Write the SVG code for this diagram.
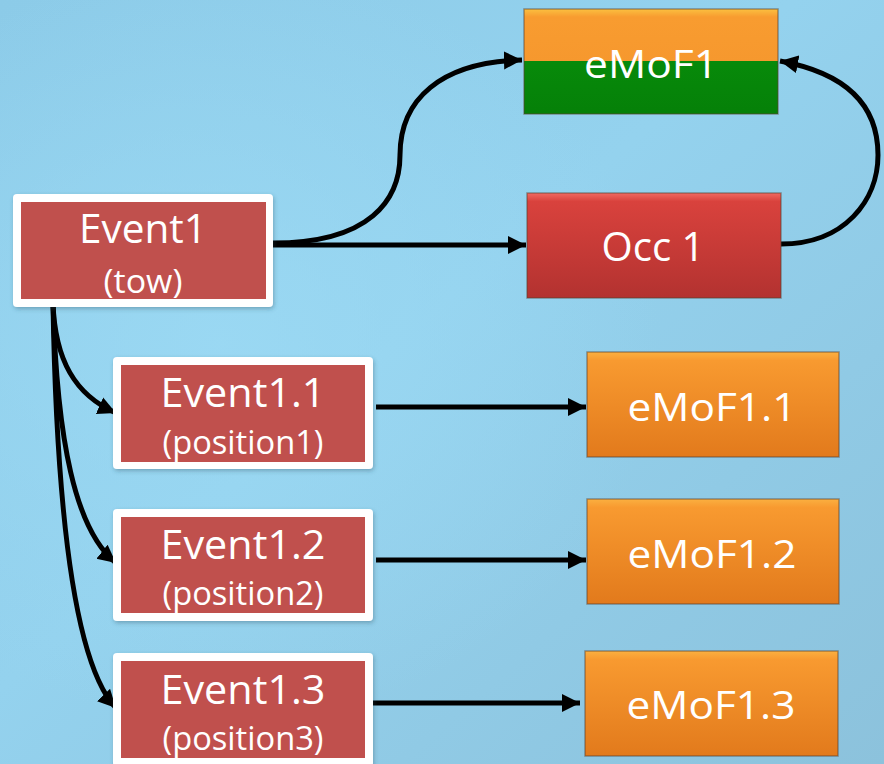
<svg xmlns="http://www.w3.org/2000/svg" width="884" height="764" viewBox="0 0 884 764">
<defs>
<linearGradient id="bg" x1="0" y1="0" x2="1" y2="1">
<stop offset="0" stop-color="#8ccbe8"/>
<stop offset="0.45" stop-color="#94d2ee"/>
<stop offset="1" stop-color="#8cc2dc"/>
</linearGradient>
<radialGradient id="glow" cx="0.25" cy="0.45" r="0.5">
<stop offset="0" stop-color="#9cdaf4" stop-opacity="0.8"/>
<stop offset="1" stop-color="#9cdaf4" stop-opacity="0"/>
</radialGradient>
<linearGradient id="orange" x1="0" y1="0" x2="0" y2="1">
<stop offset="0" stop-color="#fbb040"/>
<stop offset="0.08" stop-color="#f89a30"/>
<stop offset="1" stop-color="#e27a1c"/>
</linearGradient>
<linearGradient id="orangeTop" x1="0" y1="0" x2="0" y2="1">
<stop offset="0" stop-color="#fbc040"/>
<stop offset="0.15" stop-color="#f89c30"/>
<stop offset="1" stop-color="#f6982e"/>
</linearGradient>
<linearGradient id="green" x1="0" y1="0" x2="0" y2="1">
<stop offset="0" stop-color="#078a0a"/>
<stop offset="1" stop-color="#058008"/>
</linearGradient>
<linearGradient id="occ" x1="0" y1="0" x2="0" y2="1">
<stop offset="0" stop-color="#f06a62"/>
<stop offset="0.08" stop-color="#d9423d"/>
<stop offset="1" stop-color="#b33230"/>
</linearGradient>
<filter id="sh" x="-10%" y="-10%" width="130%" height="130%">
<feDropShadow dx="1" dy="2" stdDeviation="2" flood-color="#2a4a5a" flood-opacity="0.35"/>
</filter>
<marker id="ah" markerUnits="userSpaceOnUse" markerWidth="20" markerHeight="20" refX="18" refY="9.5" orient="auto">
<path d="M0,0.5 L18,9.5 L0,18.5 Z" fill="#000"/>
</marker>
</defs>
<style>
.lbl{font-family:"Open Sans","Liberation Sans",sans-serif;fill:#fff;text-anchor:middle}
.big{font-size:41px}
.sub{font-size:32px}
.ev-o{fill:#fff;filter:url(#sh)}
.ev-i{fill:#c0504d}
.edge{fill:none;stroke:#000;stroke-width:5;marker-end:url(#ah)}
.bev{fill:none;stroke:#5a4030;stroke-opacity:0.5;stroke-width:1.5}
</style>
<rect x="0" y="0" width="884" height="764" fill="url(#bg)"/>
<rect x="0" y="0" width="884" height="764" fill="url(#glow)"/>

<g id="connectors">
<path class="edge" d="M273,243 C370,243 400,200 400,155 C400,100 440,62 522,60"/>
<path class="edge" d="M273,245 L526,245"/>
<path class="edge" d="M781,244 C845,244 878,200 878,155 C878,100 840,72 780,61"/>
<path class="edge" d="M53,303 C55,360 75,395 116,413"/>
<path class="edge" d="M53,303 C57,440 75,530 116,563"/>
<path class="edge" d="M53,303 C56,480 70,660 116,708"/>
<path class="edge" d="M376,407 L586,407"/>
<path class="edge" d="M376,560 L586,560"/>
<path class="edge" d="M369,703 L580,703"/>
</g>

<g id="event1">
<rect class="ev-o" x="13" y="194" width="260" height="113" rx="4"/>
<rect class="ev-i" x="21" y="202" width="245" height="97"/>
<text class="lbl big" x="143" y="243" textLength="128" lengthAdjust="spacingAndGlyphs">Event1</text>
<text class="lbl sub" x="143" y="293" textLength="79" lengthAdjust="spacingAndGlyphs">(tow)</text>
</g>

<g id="emof1">
<rect x="524" y="9" width="254" height="53" fill="url(#orangeTop)"/>
<rect x="524" y="61" width="254" height="53" fill="url(#green)"/>
<rect class="bev" x="524" y="9" width="254" height="105"/>
<text class="lbl" x="651" y="78" style="font-size:38px" textLength="134" lengthAdjust="spacingAndGlyphs">eMoF1</text>
</g>

<g id="occ1">
<rect x="527" y="193" width="254" height="105" fill="url(#occ)"/>
<rect class="bev" x="527" y="193" width="254" height="105"/>
<text class="lbl" x="653" y="261" style="font-size:40px" textLength="103" lengthAdjust="spacingAndGlyphs">Occ 1</text>
</g>

<g id="event1-1">
<rect class="ev-o" x="113" y="357" width="260" height="112" rx="4"/>
<rect class="ev-i" x="121" y="365" width="244" height="97"/>
<text class="lbl big" x="243" y="407" textLength="165" lengthAdjust="spacingAndGlyphs">Event1.1</text>
<text class="lbl sub" x="243" y="454" textLength="161" lengthAdjust="spacingAndGlyphs">(position1)</text>
</g>

<g id="event1-2">
<rect class="ev-o" x="113" y="509" width="260" height="112" rx="4"/>
<rect class="ev-i" x="121" y="517" width="244" height="96"/>
<text class="lbl big" x="243" y="559" textLength="165" lengthAdjust="spacingAndGlyphs">Event1.2</text>
<text class="lbl sub" x="243" y="605" textLength="161" lengthAdjust="spacingAndGlyphs">(position2)</text>
</g>

<g id="event1-3">
<rect class="ev-o" x="113" y="653" width="260" height="114" rx="4"/>
<rect class="ev-i" x="121" y="661" width="244" height="97"/>
<text class="lbl big" x="243" y="704" textLength="165" lengthAdjust="spacingAndGlyphs">Event1.3</text>
<text class="lbl sub" x="243" y="750" textLength="161" lengthAdjust="spacingAndGlyphs">(position3)</text>
</g>

<g id="emof1-1">
<rect x="587" y="352" width="252" height="105" fill="url(#orange)"/>
<rect class="bev" x="587" y="352" width="252" height="105"/>
<text class="lbl" x="712" y="421" style="font-size:39px" textLength="169" lengthAdjust="spacingAndGlyphs">eMoF1.1</text>
</g>

<g id="emof1-2">
<rect x="587" y="499" width="252" height="105" fill="url(#orange)"/>
<rect class="bev" x="587" y="499" width="252" height="105"/>
<text class="lbl" x="712" y="568" style="font-size:39px" textLength="169" lengthAdjust="spacingAndGlyphs">eMoF1.2</text>
</g>

<g id="emof1-3">
<rect x="585" y="651" width="253" height="105" fill="url(#orange)"/>
<rect class="bev" x="585" y="651" width="253" height="105"/>
<text class="lbl" x="711" y="719" style="font-size:39px" textLength="169" lengthAdjust="spacingAndGlyphs">eMoF1.3</text>
</g>
</svg>
